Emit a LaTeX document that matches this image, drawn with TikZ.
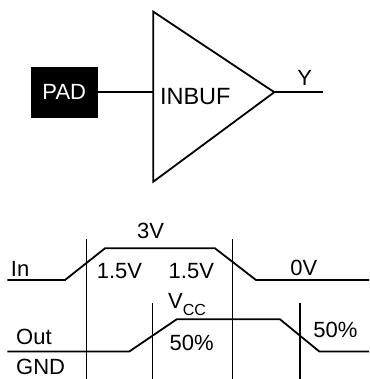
\documentclass[tikz,border=0pt]{standalone}
\usepackage{fontspec}
\setmainfont{Liberation Sans}
\begin{document}
\begin{tikzpicture}[x=1pt,y=-1pt,
  lbl/.style={inner sep=0pt,font=\fontsize{22}{22}\selectfont,text depth=0pt},
  wire/.style={line width=1.8pt},
  wave/.style={line width=1.8pt,line join=miter},
  mark line/.style={line width=1.5pt}]
\useasboundingbox (0,0) rectangle (369,379);
% buffer
\node[fill=black,text=white,inner sep=0pt,minimum width=66.7pt,minimum height=51pt,
      font=\fontsize{22}{22}\selectfont,text depth=0pt] (pad) at (64.3,92.2) {PAD};
\coordinate (tt) at (153.3,11.7);
\coordinate (tb) at (153.3,181.7);
\coordinate (tip) at (274.3,92.2);
\coordinate (tin) at (153.3,92.2);
\coordinate (yend) at (322.7,92.2);
\draw[wire,line join=miter] (tt) -- (tip) -- (tb) -- cycle;
\draw[wire] (pad.east) -- (tin);
\draw[wire] (tip) -- (yend);
\node[lbl,anchor=base,font=\fontsize{23.5}{23.5}\selectfont] (inbuf) at (195.3,105) {INBUF};
\node[lbl,anchor=base] (ylab) at (304.7,85.3) {Y};
% timing marks
\coordinate (v1t) at (86.7,239.3);  \coordinate (v1b) at (86.7,379);
\coordinate (v2t) at (232.3,239.3); \coordinate (v2b) at (232.3,379);
\coordinate (v3t) at (152.3,303.3); \coordinate (v3b) at (152.3,379);
\coordinate (v4t) at (300,303.3);   \coordinate (v4b) at (300,379);
\draw[mark line] (v1t) -- (v1b);
\draw[mark line] (v2t) -- (v2b);
\draw[mark line] (v3t) -- (v3b);
\draw[mark line] (v4t) -- (v4b);
% waveforms
\draw[wave] (7.3,280) -- (65,280) -- (105,248.3) -- (215,248.3) -- (256,280) -- (369,280);
\draw[wave] (7.3,351.5) -- (129.3,351.5) -- (176.7,319.3) -- (280,319.3) -- (319.3,351.5) -- (369,351.5);
% labels
\node[lbl,anchor=base] (l3v) at (150.7,238.3) {3V};
\node[lbl,anchor=base west] (lin) at (10.7,276) {In};
\node[lbl,anchor=base] (l15a) at (119.5,278.3) {1.5V};
\node[lbl,anchor=base] (l15b) at (191.3,278.3) {1.5V};
\node[lbl,anchor=base] (l0v) at (303.8,275) {0V};
\node[lbl,anchor=base west] (lvcc) at (168,308.3) {V\raisebox{-6.7pt}{\fontsize{16}{16}\selectfont CC}};
\node[lbl,anchor=base west] (lout) at (16,344.3) {Out};
\node[lbl,anchor=base] (l50a) at (191.7,350.5) {50\%};
\node[lbl,anchor=base] (l50b) at (335.5,337.3) {50\%};
\node[lbl,anchor=base west] (lgnd) at (16,374.5) {GND};
\end{tikzpicture}
\end{document}
